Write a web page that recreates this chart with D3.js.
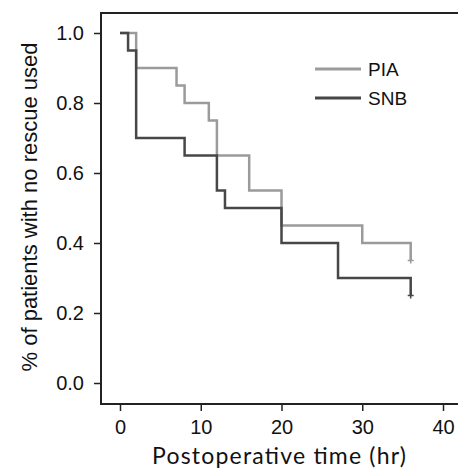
<!DOCTYPE html>
<html>
<head>
<meta charset="utf-8">
<script src="https://cdn.jsdelivr.net/npm/d3@7"></script>
<style>
body { margin: 0; background: #fff; }
svg text { font-family: "Liberation Sans", Arial, sans-serif; fill: #111; }
</style>
</head>
<body>
<svg id="km" width="458" height="471"></svg>
<script>
// step points [time, proportion] for each group
var piaSteps = [[0, 1.0], [2, 1.0], [2, 0.9], [7, 0.9], [7, 0.85], [8, 0.85], [8, 0.8], [11, 0.8], [11, 0.75], [12, 0.75], [12, 0.65], [16, 0.65], [16, 0.55], [20, 0.55], [20, 0.45], [30, 0.45], [30, 0.4], [36, 0.4], [36, 0.35]];
var snbSteps = [[0, 1.0], [1, 1.0], [1, 0.95], [2, 0.95], [2, 0.7], [8, 0.7], [8, 0.65], [12, 0.65], [12, 0.55], [13, 0.55], [13, 0.5], [20, 0.5], [20, 0.4], [27, 0.4], [27, 0.3], [36, 0.3], [36, 0.25]];
var groups = ["PIA", "SNB"];
var xTicks = [0, 10, 20, 30, 40];
var yTicks = [0.0, 0.2, 0.4, 0.6, 0.8, 1.0];

var svg = d3.select("#km");
var x = d3.scaleLinear().domain([0, 40]).range([120, 443]);
var y = d3.scaleLinear().domain([0, 1]).range([383, 33]);
var colors = {PIA: "#9b9b9b", SNB: "#474747"};

// frame: top, left and bottom edges, right side runs off the picture
svg.append("path")
    .attr("d", "M458,13H101V404H458")
    .attr("fill", "none")
    .attr("stroke", "#222")
    .attr("stroke-width", 2);

var yAxis = svg.append("g").attr("transform", "translate(101,0)")
    .call(d3.axisLeft(y).tickValues(yTicks).tickFormat(d3.format(".1f")).tickSize(7).tickPadding(10));
yAxis.select(".domain").remove();
yAxis.selectAll("line").attr("stroke", "#222").attr("stroke-width", 1.5);
yAxis.selectAll("text").style("font-size", "20px").attr("fill", "#111");

var xAxis = svg.append("g").attr("transform", "translate(0,404)")
    .call(d3.axisBottom(x).tickValues(xTicks).tickSize(7).tickPadding(9));
xAxis.select(".domain").remove();
xAxis.selectAll("line").attr("stroke", "#222").attr("stroke-width", 1.5);
xAxis.selectAll("text").style("font-size", "20px").attr("fill", "#111");

var line = d3.line().x(function(d) { return x(d[0]); }).y(function(d) { return y(d[1]); });

var series = [{name: "PIA", steps: piaSteps}, {name: "SNB", steps: snbSteps}];
series.forEach(function(s) {
    svg.append("path")
        .datum(s.steps)
        .attr("d", line)
        .attr("fill", "none")
        .attr("stroke", colors[s.name])
        .attr("stroke-width", 2.5);
    // censor mark at the end
    var last = s.steps[s.steps.length - 1];
    var cx = x(last[0]), cy = y(last[1]);
    svg.append("path")
        .attr("d", "M" + (cx - 3) + "," + cy + "H" + (cx + 3) + "M" + cx + "," + (cy - 3) + "V" + (cy + 3))
        .attr("stroke", colors[s.name])
        .attr("stroke-width", 1.5);
});

// legend
var legend = svg.selectAll(".leg").data(groups).enter().append("g")
    .attr("transform", function(d, i) { return "translate(315," + (69 + i * 29) + ")"; });
legend.append("line")
    .attr("x1", 0).attr("x2", 46)
    .attr("stroke", function(d) { return colors[d]; })
    .attr("stroke-width", 3);
legend.append("text")
    .attr("x", 53).attr("dy", "0.35em")
    .style("font-size", "19px")
    .text(function(d) { return d; });

svg.append("text")
    .attr("x", 279).attr("y", 464)
    .attr("text-anchor", "middle")
    .attr("textLength", 254)
    .attr("lengthAdjust", "spacing")
    .style("font-family", "Lato, 'Open Sans', sans-serif")
    .style("font-size", "23px")
    .text("Postoperative time (hr)");

svg.append("text")
    .attr("transform", "translate(29,207) rotate(-90)")
    .attr("text-anchor", "middle")
    .attr("dy", "0.35em")
    .style("font-size", "22px")
    .text("% of patients with no rescue used");
</script>
</body>
</html>
